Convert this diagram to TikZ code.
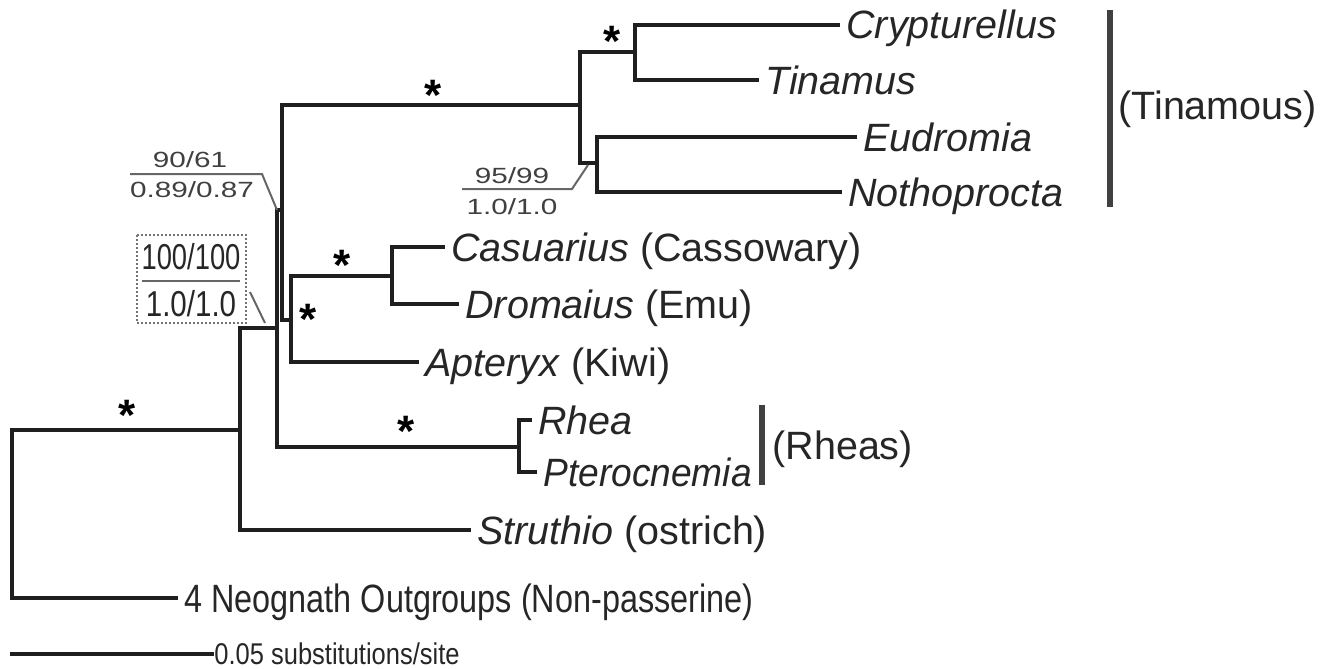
\documentclass[tikz,border=0pt]{standalone}
\usepackage{fontspec}
\setmainfont{Liberation Sans}
\begin{document}
\begin{tikzpicture}[x=0.5pt,y=-0.5pt,
  br/.style={line width=2pt, draw=black!88, line cap=rect},
  brk/.style={line width=2.6pt, draw=black!75},
  taxon/.style={anchor=west, inner xsep=4pt, inner ysep=0pt, text height=14pt, text depth=0pt,
    font=\fontsize{19.75pt}{22pt}\selectfont, text=black!85},
  grp/.style={anchor=west, inner xsep=0pt, inner ysep=0pt, text height=14pt, text depth=0pt,
    font=\fontsize{19.75pt}{22pt}\selectfont, text=black!85},
  starlbl/.style={anchor=north, inner sep=0pt, font=\fontsize{22pt}{22pt}\bfseries\selectfont},
  lbl/.style={inner sep=0pt, font=\fontsize{11pt}{12pt}\selectfont, text=black!75},
  biglbl/.style={inner sep=0pt, font=\fontsize{18pt}{20pt}\selectfont, text=black!85},
  lead/.style={line width=1pt, draw=black!60}
]
\useasboundingbox (0,0) rectangle (1334,669);

% taxa
\node[taxon] (crypt) at (838,25) {\textit{Crypturellus}};
\node[taxon] (tina) at (757,80) {\textit{Tinamus}};
\node[taxon] (eudr) at (855,137) {\textit{Eudromia}};
\node[taxon] (noth) at (840,192) {\textit{Nothoprocta}};
\node[taxon] (casu) at (443,247) {\textit{Casuarius} (Cassowary)};
\node[taxon] (drom) at (457,304) {\textit{Dromaius} (Emu)};
\node[taxon] (apte) at (417,362) {\textit{Apteryx} (Kiwi)};
\node[taxon] (rhea) at (530,420) {\textit{Rhea}};
\node[taxon] (pter) at (535,472) {\scalebox{0.94}[1]{\textit{Pterocnemia}}};
\node[taxon] (stru) at (469,530) {\textit{Struthio} (ostrich)};
\node[taxon] (out) at (176,598) {\scalebox{0.82}[1]{4 Neognath Outgroups (Non-passerine)}};

% internal nodes
\coordinate (CT) at (635,52);
\coordinate (EN) at (597,163);
\coordinate (T) at (580,105);
\coordinate (Dtop) at (282,105);
\coordinate (Dbot) at (282,320);
\coordinate (C0) at (291,320);
\coordinate (Ctop) at (291,276);
\coordinate (CD) at (392,276);
\coordinate (B0) at (277,210);
\coordinate (D0) at (282,210);
\coordinate (B1) at (277,328);
\coordinate (A1) at (240,328);
\coordinate (A) at (240,430);
\coordinate (R) at (12,430);
\coordinate (RN) at (519,447);

% branches
\draw[br] (crypt) -| (CT) |- (tina);
\draw[br] (eudr) -| (EN) |- (noth);
\draw[br] (CT) -| (T) |- (EN);
\draw[br] (T) -- (Dtop) -- (Dbot) -- (C0);
\draw[br] (casu) -| (CD) |- (drom);
\draw[br] (CD) -- (Ctop) |- (apte);
\draw[br] (Ctop) -- (C0);
\draw[br] (B0) -- (D0);
\draw[br] (rhea) -| (RN) |- (pter);
\draw[br] (B0) |- (RN);
\draw[br] (A1) -- (B1);
\draw[br] (A1) |- (stru);
\draw[br] (A) -- (R) |- (out);

% support stars
\node[starlbl] (s1) at (433,80) {*};
\node[starlbl] (s2) at (612,26) {*};
\node[starlbl] (s3) at (342,250) {*};
\node[starlbl] (s4) at (308,304) {*};
\node[starlbl] (s5) at (127,400) {*};
\node[starlbl] (s6) at (406,416) {*};

% group brackets
\coordinate (tbT) at (1110,10);
\coordinate (tbB) at (1110,207);
\draw[brk] (tbT) -- (tbB);
\node[grp] (tinamous) at (1118,105) {(Tinamous)};
\coordinate (rbT) at (762,405);
\coordinate (rbB) at (762,485);
\draw[brk] (rbT) -- (rbB);
\node[grp] (rheas) at (772,445) {(Rheas)};

% support labels
\node[lbl] (l1a) at (190,160) {\scalebox{1.35}[1]{90/61}};
\node[lbl] (l1b) at (192,190) {\scalebox{1.35}[1]{0.89/0.87}};
\coordinate (u1a) at (130,174);
\coordinate (u1b) at (262,174);
\draw[lead] (u1a) -- (u1b) -- (B0);

\node[lbl] (l2a) at (512,176) {\scalebox{1.35}[1]{95/99}};
\node[lbl] (l2b) at (512,207) {\scalebox{1.35}[1]{1.0/1.0}};
\coordinate (u2a) at (462,189);
\coordinate (u2b) at (572,189);
\coordinate (u2c) at (588,165);
\draw[lead] (u2a) -- (u2b) -- (u2c);

\coordinate (bx1) at (137,235);
\coordinate (bx2) at (246,323);
\draw[line width=1pt, draw=black!55, densely dotted] (bx1) rectangle (bx2);
\node[biglbl] (l3a) at (191,257) {\scalebox{0.76}[1]{100/100}};
\node[biglbl] (l3b) at (191,304) {\scalebox{0.82}[1]{1.0/1.0}};
\coordinate (u3a) at (142,281);
\coordinate (u3b) at (240,281);
\draw[lead] (u3a) -- (u3b);
\coordinate (d3a) at (250,292);
\coordinate (d3b) at (265,323);
\draw[lead] (d3a) -- (d3b);

% scale bar
\node[anchor=west, inner xsep=1pt, inner ysep=0pt, font=\fontsize{15pt}{16pt}\selectfont, text=black!85] (sc) at (212,654) {\scalebox{0.85}[1]{0.05 substitutions/site}};
\coordinate (sc0) at (12,654);
\draw[br] (sc0) -- (sc);
\end{tikzpicture}
\end{document}
